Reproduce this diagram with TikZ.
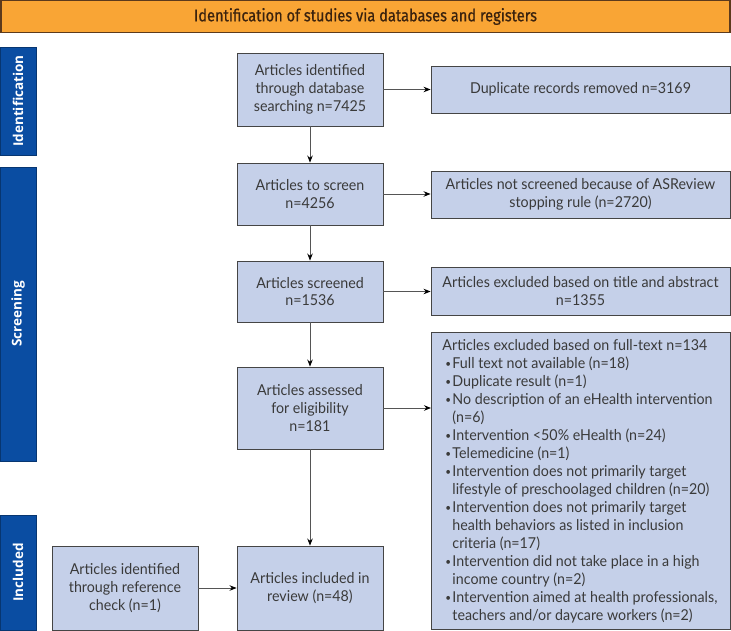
\documentclass[tikz,border=0pt]{standalone}
\usepackage{fontspec}
\setmainfont[FakeStretch=0.95]{Lato}
\newfontfamily\headfont[FakeStretch=0.86,FakeBold=0.6]{Fira Sans}
\newfontfamily\sidefont{Open Sans}
\usetikzlibrary{arrows.meta}
\definecolor{boxfill}{HTML}{C5D0E9}
\definecolor{boxline}{HTML}{454545}
\definecolor{txt}{HTML}{3A3A3A}
\definecolor{sidefill}{HTML}{0A4DA2}
\definecolor{headfill}{HTML}{F9A535}
\definecolor{headline}{HTML}{5C3A1C}
\definecolor{headtxt}{HTML}{3A220E}
\definecolor{arr}{HTML}{555555}
\newcommand{\itm}[1]{\par\hangindent=10pt\hangafter=1\noindent\makebox[10pt][l]{\hspace{3pt}\raisebox{1pt}{\scalebox{0.7}{\textbullet}}}#1}
\begin{document}
\begin{tikzpicture}[x=1pt,y=-1pt,
  stagebox/.style={draw=boxline,line width=0.9pt,fill=boxfill,text=txt,align=center,
     font=\fontsize{15}{17.8}\selectfont,inner sep=2pt},
  sidebar/.style={fill=sidefill,draw=sidefill!70!black,line width=0.6pt},
  sidelabel/.style={text=white,font=\sidefont\bfseries\fontsize{13.5}{15}\selectfont,rotate=90},
  flow/.style={draw=arr,line width=0.9pt,-{Stealth[length=7pt,width=5.5pt,black]}}]
\useasboundingbox (0,0) rectangle (731,631);
% header
\node[draw=headline,line width=1.2pt,fill=headfill,minimum width=729pt,minimum height=32pt,inner sep=0pt,
  text=headtxt,font=\headfont\fontsize{17}{18}\selectfont] (head) at (365.5,16.5) {Identification of studies via databases and registers};
% side bars
\node[sidebar,minimum width=36pt,minimum height=108pt,inner sep=0pt] (sid) at (18,101) {};
\node[sidelabel] (sidl) at (sid.center) {Identification};
\node[sidebar,minimum width=36pt,minimum height=294pt,inner sep=0pt] (ssc) at (18,314) {};
\node[sidelabel] (sscl) at (ssc.center) {Screening};
\node[sidebar,minimum width=36pt,minimum height=115pt,inner sep=0pt] (sin) at (18,572.5) {};
\node[sidelabel] (sinl) at (sin.center) {Included};
% main column
\node[stagebox,minimum width=146pt,minimum height=73pt] (b1) at (310,89.5) {Articles identified\\through database\\searching n=7425};
\node[stagebox,minimum width=146pt,minimum height=62pt] (b2) at (310,194) {Articles to screen\\n=4256};
\node[stagebox,minimum width=146pt,minimum height=61pt] (b3) at (310,291.5) {Articles screened\\n=1536};
\node[stagebox,minimum width=146pt,minimum height=82pt] (b4) at (310,408) {Articles assessed\\for eligibility\\n=181};
\node[stagebox,minimum width=146pt,minimum height=84pt] (b5) at (310,588) {Articles included in\\review (n=48)};
\node[stagebox,minimum width=146pt,minimum height=84pt] (ref) at (125,588) {Articles identified\\through reference\\check (n=1)};
% right column
\node[stagebox,minimum width=299pt,minimum height=47pt] (e1) at (580.5,89.5) {Duplicate records removed n=3169};
\node[stagebox,minimum width=299pt,minimum height=47pt] (e2) at (580.5,194.5) {Articles not screened because of ASReview\\stopping rule (n=2720)};
\node[stagebox,minimum width=299pt,minimum height=48pt] (e3) at (580.5,291) {Articles excluded based on title and abstract\\n=1355};
\node[stagebox,minimum width=299pt,minimum height=297pt,anchor=north west,inner xsep=11pt,inner ysep=6pt] (e4) at (431,332) {%
\begin{minipage}[t][283pt][t]{277pt}\raggedright\parskip=0pt\fontsize{15}{18}\selectfont\lineskiplimit=-\maxdimen
\noindent Articles excluded based on full-text n=134
\itm{Full text not available (n=18)}
\itm{Duplicate result (n=1)}
\itm{No description of an eHealth intervention\newline(n=6)}
\itm{Intervention <50\% eHealth (n=24)}
\itm{Telemedicine (n=1)}
\itm{Intervention does not primarily target\newline lifestyle of preschoolaged children (n=20)}
\itm{Intervention does not primarily target\newline health behaviors as listed in inclusion\newline criteria (n=17)}
\itm{Intervention did not take place in a high\newline income country (n=2)}
\itm{Intervention aimed at health professionals,\newline teachers and/or daycare workers (n=2)}\par
\end{minipage}};
% connectors
\draw[flow] (b1) -- (b2);
\draw[flow] (b2) -- (b3);
\draw[flow] (b3) -- (b4);
\draw[flow] (b4) -- (b5);
\draw[flow] (ref) -- (b5);
\draw[flow] (b1) -- (e1);
\draw[flow] (b2.east) -- (b2.east -| e2.west);
\draw[flow] (b3.east) -- (b3.east -| e3.west);
\draw[flow] (b4.east) -- (b4.east -| e4.west);
\end{tikzpicture}
\end{document}
